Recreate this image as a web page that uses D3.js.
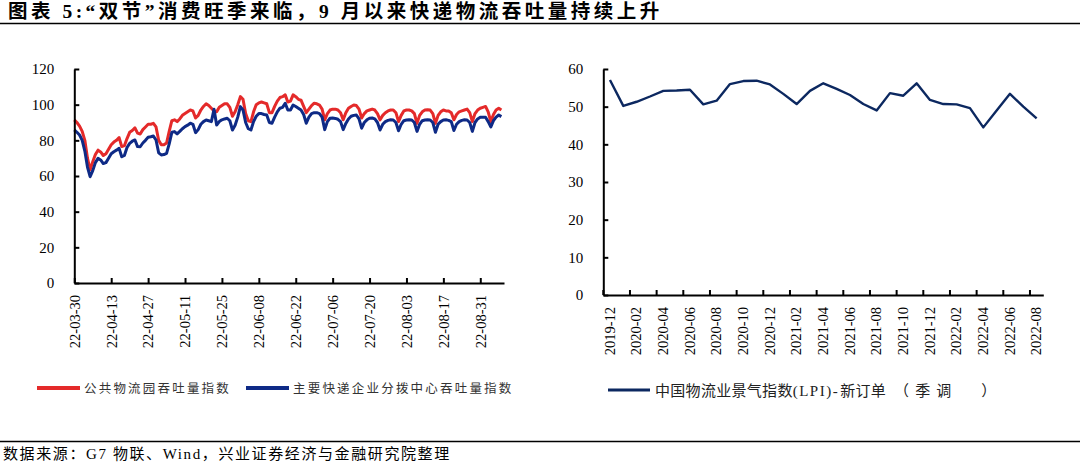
<!DOCTYPE html>
<html><head><meta charset="utf-8">
<script src="https://cdn.jsdelivr.net/npm/d3@7"></script>
<style>
html,body{margin:0;padding:0;background:#fff;}
svg{display:block;font-family:"Liberation Serif","Noto Sans CJK SC",serif;}
</style></head><body>
<svg id="c" width="1080" height="464"></svg>
<script>
// ---------- data ----------
const titleText = "图表 5:“双节”消费旺季来临，9 月以来快递物流吞吐量持续上升";
const sourceText = "数据来源：G7 物联、Wind，兴业证券经济与金融研究院整理";

const leftStartDate = "2022-03-30";
const leftTickLabels = ["22-03-30","22-04-13","22-04-27","22-05-11","22-05-25","22-06-08","22-06-22","22-07-06","22-07-20","22-08-03","22-08-17","22-08-31"];
const leftYTicks = [0,20,40,60,80,100,120];
const seriesNames = ["公共物流园吞吐量指数","主要快递企业分拨中心吞吐量指数"];
const parkIndex = [
 91.5,90,88,85,80,70,63.5,
 68,72,74.5,73.5,71.5,72.5,75,
 77.5,79,80,81.5,76.5,77,81,
 84.5,85.5,87,84,83.5,86,87.5,
 89,89,89.5,87.5,80,77.5,77.5,
 78.5,85,91,91.5,90.5,92,94,
 95,96,97,96.5,92.5,94,97,
 99,100.5,99.5,98,96.5,96,98.5,
 99.5,100.5,100.5,98.5,93.5,96,100,
 104.5,103,95,91,90.5,96,100,
 101,101.5,101,100.5,95.5,95.5,99,
 102,104,104.5,105.5,101.5,102,105.5,
 104.5,103,102.5,99,95.5,97.5,99.5,
 100.8,100.5,99.8,97.5,91.5,95,97,
 97.5,97.5,97,95.5,91.5,95.5,98,
 99,99.8,99.5,97.5,92.5,95,96.5,
 97,97.5,97,95,91.5,94,95.5,
 96.5,97,97,95.5,90.5,94,96.5,
 97,97,96.5,95,89.5,94,96,
 97,97.2,97,95,89.5,94,96,
 97,96.5,96.5,95.5,91.5,94.5,96,
 96.5,97,97.5,95.5,90.5,95,97,
 98,98.5,99,96,90.5,94.5,97,
 98,97
];
const expressIndex = [
 85.8,84.5,83,80,74,65,59.6,
 63,67.5,69.9,69,67,67.5,70,
 72.5,73.6,74.5,75.5,70.8,71.5,76,
 78.3,79.5,80.2,76.5,76.4,78.5,80,
 81.7,82,82.4,80.2,73,71.8,72,
 72.7,78,84.5,84.9,83.6,85,86.5,
 87.7,88.5,89.6,89,84.3,86,89,
 90.5,91.4,91,90.5,97.4,88.6,90.5,
 91.5,92,92.4,91,85.8,88.5,93,
 98.9,97,90,86.5,85.8,90.5,93.5,
 95,95,94.5,94.2,90,89.6,93,
 96,98,98.5,100.8,97,97,99.8,
 99,98,97,94.5,89.6,93,95,
 95.5,95.5,95,93,86,90.5,92.4,
 92.5,92.3,91.8,90.5,86,89.5,92,
 93.5,94,94.2,92,86.8,90,91.5,
 92.4,92.5,92,90,85.8,89,90.5,
 91.2,91.5,91.4,90,85.4,89,91,
 91.4,91.5,91.4,90,85,89,91,
 91.4,91.5,91.4,90,84.5,89,90.5,
 91.4,91.5,91.2,90.5,85.5,89,90.5,
 91.2,91.5,91.4,90,85,90,92,
 92.9,93,92.9,90.5,87.5,91,93,
 94.2,93.3
];

const lpiMonths = ["2019-12","2020-01","2020-02","2020-03","2020-04","2020-05","2020-06","2020-07","2020-08","2020-09","2020-10","2020-11","2020-12",
 "2021-01","2021-02","2021-03","2021-04","2021-05","2021-06","2021-07","2021-08","2021-09","2021-10","2021-11","2021-12",
 "2022-01","2022-02","2022-03","2022-04","2022-05","2022-06","2022-07","2022-08"];
const lpiNewOrders = [57.1,50.2,51.3,52.7,54.2,54.3,54.5,50.6,51.6,56.0,56.8,56.9,55.9,
 53.4,50.7,54.2,56.2,54.7,53.1,50.7,49.0,53.6,52.9,56.2,51.8,
 50.7,50.6,49.6,44.5,49.0,53.4,50.0,46.9];
const rightYTicks = [0,10,20,30,40,50,60];
// legend text pieces (joined they read: 中国物流业景气指数(LPI)-新订单（季调）)
const rightSeriesParts = ["中国物流业景气指数","(LPI)-","新订单","（","季","调","）"];

// ---------- drawing ----------
const svg = d3.select("#c");
const RED = "#E42A2A", BLUE = "#0E2A86", NAVY = "#0C2860";

// title
svg.append("text").attr("x",8).attr("y",18).attr("font-size",19.5).attr("font-weight","bold")
  .attr("letter-spacing",3.5).attr("fill","#000").text(titleText);
svg.append("line").attr("x1",0).attr("x2",1080).attr("y1",23.5).attr("y2",23.5).attr("stroke","#000").attr("stroke-width",1.5);
// footer
svg.append("line").attr("x1",0).attr("x2",1080).attr("y1",441.5).attr("y2",441.5).attr("stroke","#000").attr("stroke-width",1.5);
svg.append("text").attr("x",3).attr("y",459).attr("font-size",15).attr("letter-spacing",1.6).attr("fill","#000").text(sourceText);

// ----- left chart -----
const parse = d3.utcParse("%Y-%m-%d");
const t0 = parse(leftStartDate);
const dates = parkIndex.map((_, i) => d3.utcDay.offset(t0, i));
const xL = d3.scaleUtc().domain([t0, d3.utcDay.offset(t0, parkIndex.length)]).range([74.3, 504]);
const yL = d3.scaleLinear().domain([0,120]).range([283,69]);
const tickParse = d3.utcParse("%y-%m-%d");
const tickDates = leftTickLabels.map(s => tickParse(s));

const gL = svg.append("g");
const lineL = d3.line().x((d,i)=>xL(dates[i])).y(d=>yL(d));
gL.append("path").datum(parkIndex).attr("d",lineL).attr("fill","none").attr("stroke",RED).attr("stroke-width",3).attr("stroke-linejoin","round");
gL.append("path").datum(expressIndex).attr("d",lineL).attr("fill","none").attr("stroke",BLUE).attr("stroke-width",3).attr("stroke-linejoin","round");

function styleAxis(g){
  g.select(".domain").attr("stroke","#000").attr("stroke-width",2);
  g.selectAll(".tick line").attr("stroke","#000").attr("stroke-width",2);
  g.selectAll("text").attr("fill","#000").attr("font-family","Liberation Serif").attr("font-size",15);
}
const axYL = gL.append("g").attr("transform","translate(74.3,0)")
  .call(d3.axisLeft(yL).tickValues(leftYTicks).tickSize(-5).tickSizeOuter(0).tickPadding(20));
styleAxis(axYL);
const axXL = gL.append("g").attr("transform","translate(0,283)")
  .call(d3.axisBottom(xL).tickValues(tickDates).tickFormat((d,i)=>leftTickLabels[i]).tickSize(-5).tickSizeOuter(0));
styleAxis(axXL);
axXL.selectAll(".tick text").attr("transform","rotate(-90)").attr("text-anchor","end")
  .attr("x",-12).attr("y",0).attr("dy","0.33em").attr("font-size",14.5);

// left legend
svg.append("line").attr("x1",37).attr("x2",80).attr("y1",388).attr("y2",388).attr("stroke",RED).attr("stroke-width",4);
svg.append("text").attr("x",84).attr("y",393).attr("font-size",12.5).attr("letter-spacing",2.2).attr("fill","#333").text(seriesNames[0]);
svg.append("line").attr("x1",246).attr("x2",289).attr("y1",388).attr("y2",388).attr("stroke",BLUE).attr("stroke-width",4);
svg.append("text").attr("x",293).attr("y",393).attr("font-size",12.5).attr("letter-spacing",2.2).attr("fill","#333").text(seriesNames[1]);

// ----- right chart -----
const xR = d3.scaleBand().domain(lpiMonths).range([603.3, 1043.3]).padding(0);
const yR = d3.scaleLinear().domain([0,60]).range([295,69]);
const gR = svg.append("g");
gR.append("path").datum(lpiNewOrders)
  .attr("d", d3.line().x((d,i)=>xR(lpiMonths[i])+xR.bandwidth()/2).y(d=>yR(d)))
  .attr("fill","none").attr("stroke",NAVY).attr("stroke-width",2.4).attr("stroke-linejoin","round");
const axYR = gR.append("g").attr("transform","translate(603.3,0)")
  .call(d3.axisLeft(yR).tickValues(rightYTicks).tickSize(-5).tickSizeOuter(0).tickPadding(20));
styleAxis(axYR);
const rightTickCats = lpiMonths.filter((d,i)=>i%2===0);
const axXR = gR.append("g").attr("transform","translate(0,295)")
  .call(d3.axisBottom(xR).tickValues(rightTickCats).tickSize(0).tickSizeOuter(0));
styleAxis(axXR);
axXR.selectAll(".tick").append("line").attr("x1",-xR.bandwidth()/2).attr("x2",-xR.bandwidth()/2)
  .attr("y1",0).attr("y2",-5).attr("stroke","#000").attr("stroke-width",2);
axXR.selectAll(".tick text").attr("transform","rotate(-90)").attr("text-anchor","end")
  .attr("x",-12).attr("y",0).attr("dy","0.33em").attr("font-size",14.5);

// right legend
svg.append("line").attr("x1",608).attr("x2",650).attr("y1",390).attr("y2",390).attr("stroke",NAVY).attr("stroke-width",3);
const lgR = svg.append("text").attr("x",655).attr("y",396).attr("font-size",15).attr("fill","#222");
const partStyle = [
  {ls:0.3, dx:0},
  {ls:1.5, dx:0},
  {ls:0.3, dx:1},
  {ls:0, dx:8},
  {ls:0, dx:6},
  {ls:0, dx:6},
  {ls:0, dx:30}
];
rightSeriesParts.forEach((p,i)=>{
  lgR.append("tspan").attr("dx",partStyle[i].dx).attr("letter-spacing",partStyle[i].ls).text(p);
});
</script></body></html>
